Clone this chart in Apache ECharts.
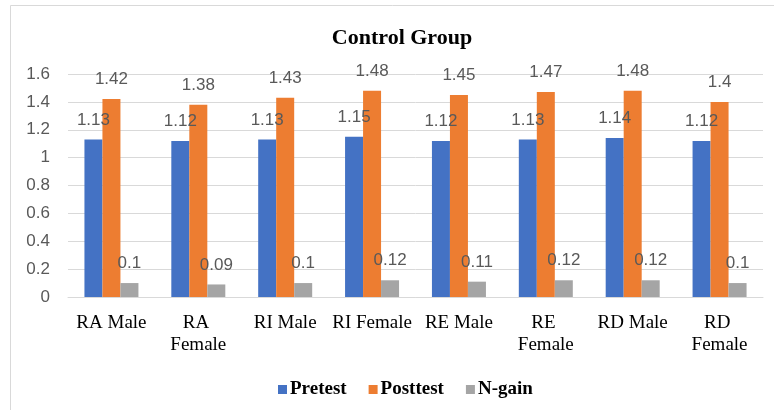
<!DOCTYPE html>
<html><head><meta charset="utf-8">
<script src="https://cdn.jsdelivr.net/npm/echarts@6/dist/echarts.min.js"></script>
<style>html,body{margin:0;padding:0;background:#fff}#c{width:774px;height:410px}</style>
</head><body><div id="c"></div>
<script>
var categories = ['RA Male','RA Female','RI Male','RI Female','RE Male','RE Female','RD Male','RD Female'];
var pretest = [1.13,1.12,1.13,1.15,1.12,1.13,1.14,1.12];
var posttest = [1.42,1.38,1.43,1.48,1.45,1.47,1.48,1.4];
var ngain = [0.1,0.09,0.1,0.12,0.11,0.12,0.12,0.1];
var seriesNames = ['Pretest','Posttest','N-gain'];
var colors = ['#4472C4','#ED7D31','#A5A5A5'];

var chart = echarts.init(document.getElementById('c'));
var lbl = {show:true, position:'top', distance:11, color:'#595959', fontSize:17, fontFamily:'Liberation Sans'};
function mk(name, data, color){
  return {name:name, type:'bar', data:data, barWidth:18, barGap:0, itemStyle:{color:color}, label:lbl};
}
chart.setOption({
  animation:false,
  graphic:[{type:'rect', shape:{x:10.5,y:5.5,width:800,height:420}, style:{fill:'none', stroke:'#d9d9d9', lineWidth:1}, silent:true}],
  title:{text:'Control Group', left:397, textAlign:'center', top:22,
    textStyle:{fontFamily:'Liberation Serif', fontWeight:'bold', fontSize:22, color:'#000'}},
  legend:{data:seriesNames, left:273, top:375, itemWidth:9, itemHeight:9, itemGap:22, icon:'rect',
    textStyle:{fontFamily:'Liberation Serif', fontWeight:'bold', fontSize:19, color:'#000', padding:[0,0,0,-2]}},
  grid:{left:68, right:11, top:74, bottom:113},
  xAxis:{type:'category', data:categories,
    axisLine:{lineStyle:{color:'#d9d9d9'}}, axisTick:{show:false},
    axisLabel:{fontFamily:'Liberation Serif', fontSize:19, color:'#000', margin:15, lineHeight:22,
      width:82, overflow:'break', interval:0}},
  yAxis:{type:'value', min:0, max:1.6, interval:0.2,
    axisLine:{show:false}, axisTick:{show:false},
    splitLine:{lineStyle:{color:'#d9d9d9'}},
    axisLabel:{fontFamily:'Liberation Sans', fontSize:17, color:'#595959', margin:18}},
  series:[mk(seriesNames[0], pretest, colors[0]), mk(seriesNames[1], posttest, colors[1]), mk(seriesNames[2], ngain, colors[2])]
});
</script></body></html>
